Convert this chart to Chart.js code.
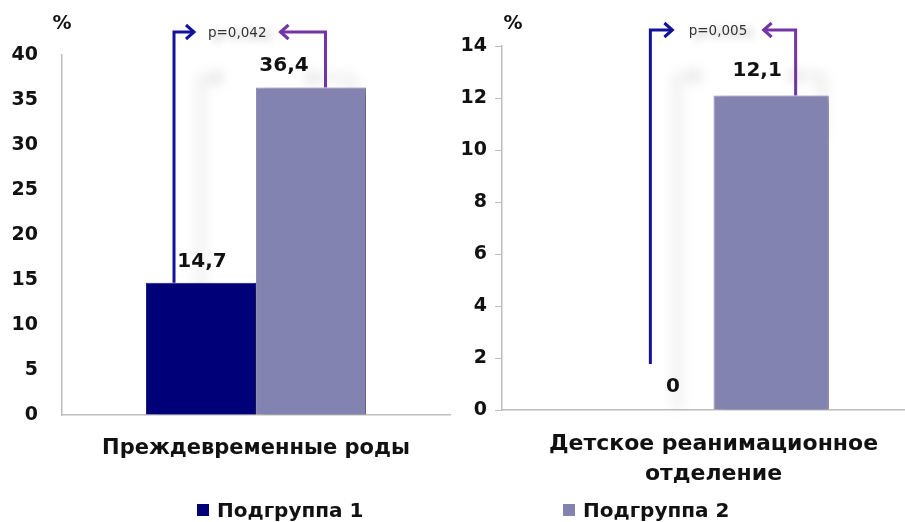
<!DOCTYPE html>
<html>
<head>
<meta charset="utf-8">
<script src="https://cdn.jsdelivr.net/npm/chart.js@4/dist/chart.umd.min.js"></script>
<style>
  html, body { margin: 0; padding: 0; background: #fff; width: 905px; height: 522px; overflow: hidden; }
  .panel { position: absolute; top: 0; height: 522px; }
  #panelLeft { left: 0; width: 460px; }
  #panelRight { left: 450px; width: 475px; }
  .legend-item { position: absolute; top: 498px; height: 26px; line-height: 26px;
    font: bold 20px "DejaVu Sans", sans-serif; color: #111; white-space: nowrap; }
  .legend-item i { display: inline-block; width: 12px; height: 12px; margin-right: 8px; vertical-align: 1px; }
</style>
</head>
<body>
<div class="panel" id="panelLeft"><canvas id="chartLeft"></canvas></div>
<div class="panel" id="panelRight"><canvas id="chartRight"></canvas></div>
<div id="legend"></div>

<script>
// Series and categories
const seriesNames = ['Подгруппа 1', 'Подгруппа 2'];
const seriesColors = ['#000078', '#8383B1'];
const categoriesLeft = ['Преждевременные роды'];
const categoriesRight = [['Детское реанимационное', 'отделение']];

// Values, %: [Подгруппа 1, Подгруппа 2]
const pretermValues = [14.7, 36.4];
const nicuValues = [0, 12.1];

// Significance of the difference between subgroups
const pValues = ['p=0,042', 'p=0,005'];

// Value axes
const yMaxes = [40, 14];
const ySteps = [5, 2];

const fmt = v => String(v).replace('.', ',');

// Bar value labels
const valueLabels = {
  id: 'valueLabels',
  afterDatasetsDraw(chart, args, opts) {
    const ctx = chart.ctx;
    ctx.save();
    ctx.font = 'bold 20px "DejaVu Sans", sans-serif';
    ctx.fillStyle = '#111';
    ctx.textAlign = 'center';
    ctx.textBaseline = 'middle';
    chart.data.datasets.forEach((ds, i) => {
      const el = chart.getDatasetMeta(i).data[0];
      ctx.fillText(fmt(ds.data[0]), el.x + opts.dx[i], el.y + opts.dy[i]);
    });
    ctx.restore();
  }
};

// Bracket arrows from each bar up to the p-value (drawn behind the bars)
function bracketGeometry(chart, opts) {
  const topY = chart.chartArea.top + opts.topOffset;
  return chart.data.datasets.map((ds, i) => {
    const el = chart.getDatasetMeta(i).data[0];
    const x = el.x + opts.dx[i];
    return {
      x: x,
      yStart: el.y - (ds.data[0] === 0 ? opts.zeroLift : 0),
      tip: x + opts.reach[i],
      dir: Math.sign(opts.reach[i]),
      topY: topY
    };
  });
}

const bracket = {
  id: 'bracket',
  beforeDatasetsDraw(chart, args, opts) {
    const ctx = chart.ctx;
    const colors = ['#12129A', '#7434A6'];
    ctx.save();
    ctx.lineWidth = 3;
    ctx.shadowColor = 'rgba(0,0,0,0.2)';
    ctx.shadowBlur = 14;
    ctx.shadowOffsetX = 27;
    ctx.shadowOffsetY = 46;
    bracketGeometry(chart, opts).forEach((g, i) => {
      ctx.strokeStyle = colors[i];
      ctx.beginPath();
      ctx.moveTo(g.x, g.yStart);
      ctx.lineTo(g.x, g.topY);
      ctx.lineTo(g.tip, g.topY);
      ctx.stroke();
      ctx.beginPath();
      ctx.moveTo(g.tip - 8 * g.dir, g.topY - 7);
      ctx.lineTo(g.tip, g.topY);
      ctx.lineTo(g.tip - 8 * g.dir, g.topY + 7);
      ctx.stroke();
    });
    ctx.restore();
  },
  afterDatasetsDraw(chart, args, opts) {
    const ctx = chart.ctx;
    const g = bracketGeometry(chart, opts);
    ctx.save();
    ctx.font = '13.5px "DejaVu Sans", sans-serif';
    ctx.fillStyle = '#333';
    ctx.textAlign = 'center';
    ctx.textBaseline = 'middle';
    ctx.fillText(opts.text, (g[0].tip + g[1].tip) / 2, g[0].topY + 1);
    ctx.restore();
  }
};

// Soft drop shadow behind the bars
const barShadow = {
  id: 'barShadow',
  beforeDatasetsDraw(chart) {
    const ctx = chart.ctx;
    ctx.save();
    ctx.shadowColor = 'rgba(0,0,0,0.35)';
    ctx.shadowBlur = 8;
    ctx.shadowOffsetX = 6;
    ctx.shadowOffsetY = 3;
  },
  afterDatasetsDraw(chart) {
    chart.ctx.restore();
  }
};

// Unit sign above the value axis
const unitSign = {
  id: 'unitSign',
  afterDraw(chart, args, opts) {
    const ctx = chart.ctx;
    ctx.save();
    ctx.font = 'bold 19px "DejaVu Sans", sans-serif';
    ctx.fillStyle = '#111';
    ctx.textAlign = 'center';
    ctx.textBaseline = 'middle';
    ctx.fillText('%', chart.chartArea.left + opts.dx, opts.y);
    ctx.restore();
  }
};

function makeChart(canvasId, labels, values, idx, cfg) {
  return new Chart(document.getElementById(canvasId), {
    type: 'bar',
    data: {
      labels: labels,
      datasets: seriesNames.map((name, i) => ({
        label: name,
        data: [values[i]],
        backgroundColor: seriesColors[i],
        borderColor: i === 0 ? '#1c1c86' : '#9090BA',
        borderWidth: 1,
        categoryPercentage: cfg.catPct,
        barPercentage: 1
      }))
    },
    options: {
      responsive: true,
      maintainAspectRatio: false,
      animation: false,
      layout: { padding: cfg.padding },
      scales: {
        x: {
          grid: { display: false },
          border: { display: true, color: '#BDBDBD', width: 1.5 },
          ticks: {
            color: '#111',
            padding: 11,
            maxRotation: 0,
            autoSkip: false,
            font: { family: '"DejaVu Sans", sans-serif', size: cfg.catFont, weight: 'bold', lineHeight: '30px' }
          },
          afterFit(scale) { scale.height = cfg.xHeight; }
        },
        y: {
          min: 0,
          max: yMaxes[idx],
          grid: { drawOnChartArea: false, drawTicks: cfg.tickMarks, tickLength: 7, color: '#BDBDBD' },
          border: { display: true, color: '#BDBDBD', width: 1.5 },
          ticks: {
            stepSize: ySteps[idx],
            color: '#111',
            padding: cfg.tickPad,
            font: { family: '"DejaVu Sans", sans-serif', size: 19, weight: 'bold' }
          },
          afterFit(scale) { scale.width = cfg.yWidth; }
        }
      },
      plugins: {
        legend: { display: false },
        tooltip: { enabled: false },
        valueLabels: { dx: cfg.labelDx, dy: cfg.labelDy },
        bracket: { text: pValues[idx], dx: cfg.arrowDx, reach: cfg.arrowReach, topOffset: cfg.arrowTop, zeroLift: 46 },
        unitSign: { dx: cfg.pctDx, y: 24 }
      }
    },
    plugins: [bracket, barShadow, valueLabels, unitSign]
  });
}

makeChart('chartLeft', categoriesLeft, pretermValues, 0, {
  catPct: 0.567,
  padding: { top: 55, right: 10, left: 0, bottom: 0 },
  xHeight: 107, yWidth: 62, tickMarks: false, tickPad: 24, catFont: 21,
  labelDx: [1, -27], labelDy: [-21, -22],
  arrowDx: [-27, 14.5], arrowReach: [20, -45], arrowTop: -23,
  pctDx: 0
});

makeChart('chartRight', categoriesRight, nicuValues, 1, {
  catPct: 0.545,
  padding: { top: 46, right: 0, left: 0, bottom: 0 },
  xHeight: 112, yWidth: 52, tickMarks: true, tickPad: 8, catFont: 22,
  labelDx: [17, -14], labelDy: [-23, -25],
  arrowDx: [-5.5, 24.5], arrowReach: [22, -32], arrowTop: -16,
  pctDx: 11
});

// Shared legend
const legendLefts = [197, 563];
const legend = document.getElementById('legend');
seriesNames.forEach((name, i) => {
  const item = document.createElement('div');
  item.className = 'legend-item';
  item.style.left = legendLefts[i] + 'px';
  const sw = document.createElement('i');
  sw.style.background = seriesColors[i];
  item.appendChild(sw);
  item.appendChild(document.createTextNode(name));
  legend.appendChild(item);
});
</script>
</body>
</html>
